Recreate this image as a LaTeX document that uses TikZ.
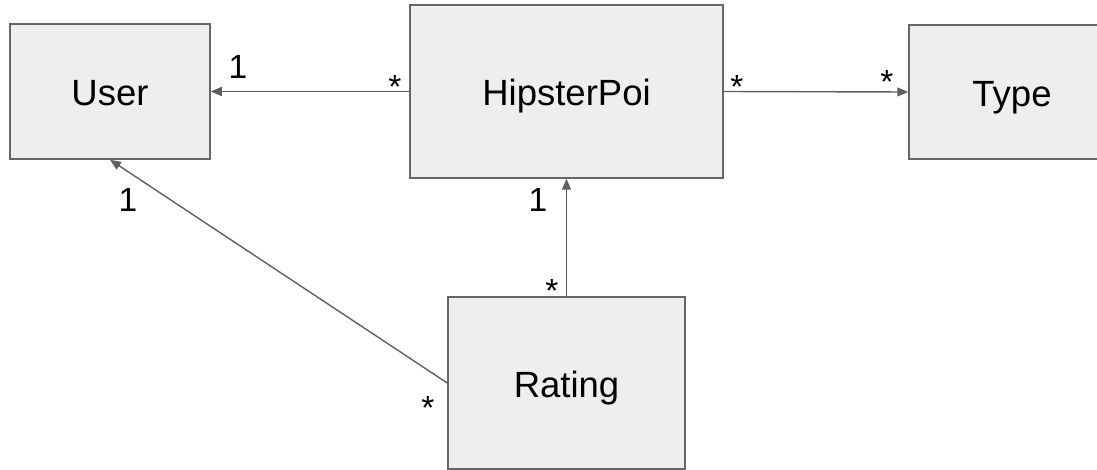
\documentclass[tikz,border=0pt]{standalone}
\usepackage{fontspec}
\setmainfont{Liberation Sans}
\usetikzlibrary{arrows.meta}
\definecolor{boxfill}{HTML}{EEEEEE}
\definecolor{boxline}{HTML}{666666}
\definecolor{conn}{HTML}{5F5F5F}
\begin{document}
\begin{tikzpicture}[x=1pt,y=-1pt,
  classbox/.style={draw=boxline, fill=boxfill, line width=1.5pt, rectangle, inner sep=0pt,
    font=\fontsize{36.5}{44}\selectfont, text height=28.5pt, text depth=0pt},
  assoc/.style={draw=conn, line width=1.4pt, -{Triangle[length=11pt,width=9pt]}},
  mult/.style={anchor=base, inner sep=0pt, font=\fontsize{33.5}{40}\selectfont}]
\useasboundingbox (0,0) rectangle (1097,470);
\node[classbox, minimum width=200pt, minimum height=135pt] (user) at (110,91.5) {User};
\node[classbox, minimum width=313pt, minimum height=173pt] (poi) at (566.5,91.5) {HipsterPoi};
\node[classbox, minimum width=206pt, minimum height=134pt] (type) at (1012,92) {Type};
\node[classbox, minimum width=237pt, minimum height=172pt] (rating) at (566.5,383) {Rating};
\draw[assoc] (poi.west) -- (user.east);
\draw[assoc] (poi.east) -- (type.west);
\draw[assoc] (rating.north) -- (poi.south);
\draw[assoc] (rating.west) -- (user.south);
\node[mult] (m1) at (238,79) {1};
\node[mult] (m2) at (395,99) {*};
\node[mult] (m3) at (128,212) {1};
\node[mult] (m4) at (737,99) {*};
\node[mult] (m5) at (887,94) {*};
\node[mult] (m6) at (538,212) {1};
\node[mult] (m7) at (552,302) {*};
\node[mult] (m8) at (428,419) {*};
\end{tikzpicture}
\end{document}
